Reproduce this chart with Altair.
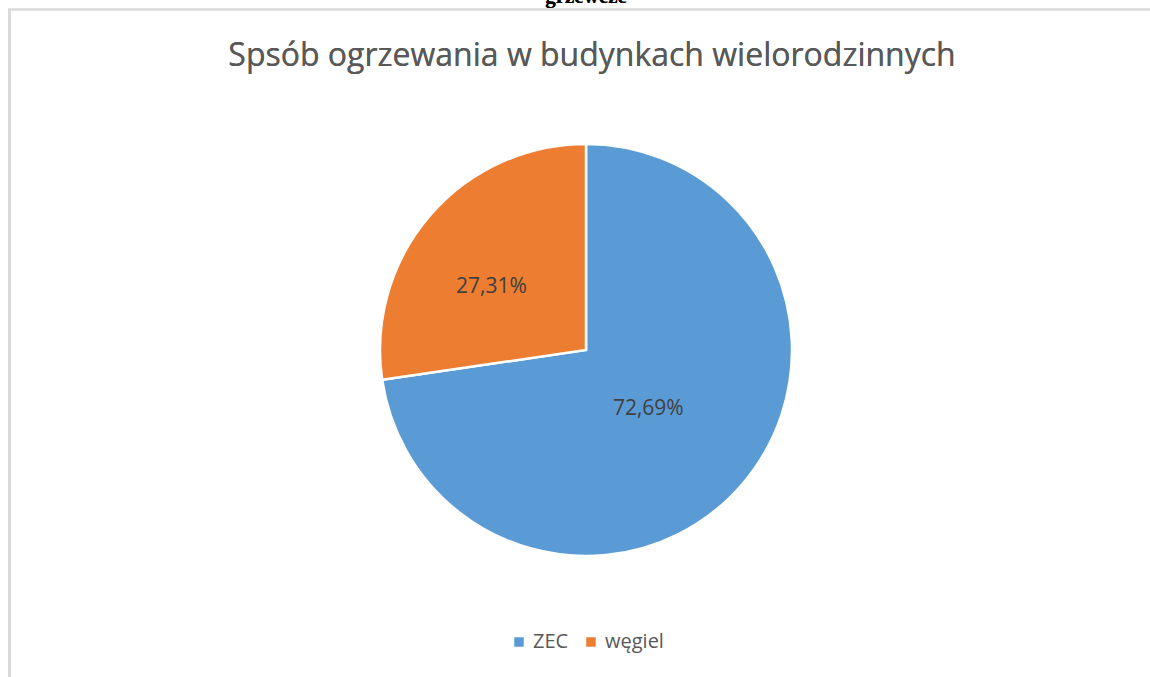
import altair as alt
import pandas as pd

categories = ["ZEC", "węgiel"]
shares = [72.69, 27.31]
labels = ["72,69%", "27,31%"]
colors = ["#5B9BD5", "#ED7D31"]

df = pd.DataFrame({"cat": categories, "val": shares, "lab": labels, "idx": [0, 1]})

W, H = 1150, 677
CX, CY, R = 586, 350, 206
FONT = "Open Sans"
theta_scale = alt.Scale(domain=[0, 100])

pie = alt.Chart(df).mark_arc(stroke="white", strokeWidth=2.5, outerRadius=R).encode(
    theta=alt.Theta("val:Q", stack=True, scale=theta_scale),
    order=alt.Order("idx:Q"),
    x=alt.value(CX), y=alt.value(CY),
    color=alt.Color(
        "cat:N",
        scale=alt.Scale(domain=categories, range=colors),
        legend=alt.Legend(
            title=None, orient="none", direction="horizontal",
            legendX=509, legendY=632,
            symbolType="square", symbolSize=90, symbolStrokeWidth=0,
            labelFontSize=20, labelFont=FONT, labelColor="#595959",
            columnPadding=12, labelOffset=4,
        ),
    ),
)

txt_base = alt.Chart(df).transform_window(
    cum="sum(val)", sort=[alt.SortField("idx", order="ascending")]
).transform_calculate(
    mid="datum.cum - datum.val / 2",
)


def label_layer(cat, r, dx, dy):
    return txt_base.transform_filter(alt.datum.cat == cat).mark_text(
        fontSize=21, font=FONT, color="#404040", baseline="middle", align="center",
        radius=r, dx=dx, dy=dy,
    ).encode(
        theta=alt.Theta("mid:Q", stack=None, scale=theta_scale),
        x=alt.value(CX), y=alt.value(CY),
        text="lab:N",
    )


txt_zec = label_layer("ZEC", 85, -2, 3)
txt_weg = label_layer("węgiel", 113, -9, 11)

title = alt.Chart(df).mark_text(
    text="Spsób ogrzewania w budynkach wielorodzinnych",
    fontSize=32, font=FONT, color="#595959", align="center", baseline="middle",
).encode(x=alt.value(592), y=alt.value(56))

cut = alt.Chart(df).mark_text(
    text="grzewcze", fontSize=21, font="Liberation Serif", fontWeight="bold",
    color="black", align="center", baseline="alphabetic",
).encode(x=alt.value(586), y=alt.value(3))

frame_top = alt.Chart(df).mark_rule(color="#D9D9D9", strokeWidth=2).encode(
    x=alt.value(8), x2=alt.value(W), y=alt.value(9.5))
frame_left = alt.Chart(df).mark_rule(color="#D9D9D9", strokeWidth=2.5).encode(
    x=alt.value(9.5), y=alt.value(9), y2=alt.value(H))

chart = alt.layer(frame_top, frame_left, cut, title, pie, txt_zec, txt_weg).properties(
    width=W, height=H, padding=0, autosize=alt.AutoSizeParams(type="none"),
    background="white",
).configure_view(stroke=None)

chart.save("out.html", embed_options={"renderer": "svg", "actions": False})
